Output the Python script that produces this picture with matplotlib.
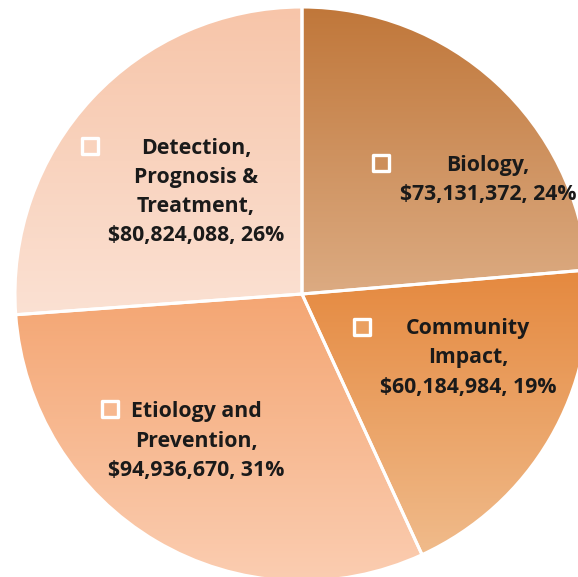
import numpy as np
import matplotlib
matplotlib.use("Agg")
import matplotlib.pyplot as plt
from matplotlib.colors import LinearSegmentedColormap

categories = ["Biology", "Community\nImpact", "Etiology and\nPrevention", "Detection,\nPrognosis &\nTreatment"]
amounts = [73131372, 60184984, 94936670, 80824088]

# top/bottom colours of the vertical gradient in each slice
grad_top = ["#c0773a", "#e5893f", "#f4a673", "#f7c5a9"]
grad_bottom = ["#dcab82", "#f0bb8b", "#fbcdb1", "#fbe1d3"]

# label centres and marker positions in pixels of the 578x577 picture
label_px = [(488, 180), (468, 358), (196, 441), (196, 192)]
marker_px = [(381, 163), (362, 327), (110, 409), (90, 146)]
cx, cy, R = 302, 294, 287


def to_data(p):
    return (p[0] - cx) / R, (cy - p[1]) / R


fig = plt.figure(figsize=(5.78, 5.77), dpi=100)
ax = fig.add_axes([0, 0, 1, 1])

wedges, _ = ax.pie(amounts, startangle=90, counterclock=False, radius=1,
                   wedgeprops=dict(edgecolor="white", linewidth=2.2))

total = sum(amounts)
for i, w in enumerate(wedges):
    ext = w.get_path().get_extents(w.get_transform() - ax.transData)
    cmap = LinearSegmentedColormap.from_list("g%d" % i, [grad_top[i], grad_bottom[i]])
    grad = np.linspace(0, 1, 256).reshape(-1, 1)
    im = ax.imshow(grad, cmap=cmap, aspect="auto", origin="upper",
                   extent=[ext.x0, ext.x1, ext.y0, ext.y1], zorder=1)
    im.set_clip_path(w)
    w.set_facecolor("none")
    w.set_zorder(2)

    pct = round(100 * amounts[i] / total)
    name = categories[i]
    sep = "\n" if name.endswith(",") else ",\n"
    label = "%s%s${:,}, %d%%".format(amounts[i]) % (name, sep, pct)
    lx, ly = to_data(label_px[i])
    ax.text(lx, ly, label, ha="center", va="center", fontsize=15.3,
            fontweight="bold", family="Open Sans", color="#1a1a1a",
            linespacing=1.52, zorder=4)
    mx, my = to_data(marker_px[i])
    mid = cmap(0.45)
    ax.scatter([mx], [my], marker="s", s=125, facecolor=mid,
               edgecolor="white", linewidth=2.4, zorder=4)

ax.set_xlim((0 - cx) / R, (578 - cx) / R)
ax.set_ylim((cy - 577) / R, (cy - 0) / R)
ax.set_aspect("equal")
ax.axis("off")

fig.savefig("out.png", dpi=100, facecolor="white")
